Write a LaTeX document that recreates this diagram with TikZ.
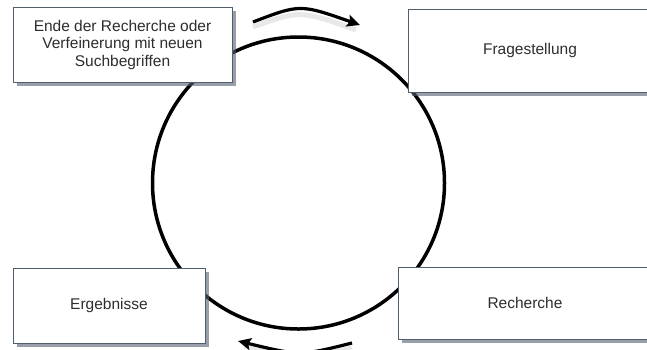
\documentclass[tikz,border=0pt]{standalone}
\usepackage{fontspec}
\setmainfont{Liberation Sans}
\usetikzlibrary{shadows,arrows.meta}
\definecolor{boxline}{RGB}{80,94,110}
\definecolor{txt}{RGB}{45,45,45}
\definecolor{shad}{RGB}{85,95,110}
\begin{document}
\begin{tikzpicture}[x=1pt,y=-1pt,
  box/.style={draw=boxline, line width=1pt, fill=white,
    drop shadow={shadow xshift=3.5pt, shadow yshift=-3.5pt, fill=shad, opacity=0.6},
    text=txt, font=\fontsize{15.5}{17.5}\selectfont, align=center, inner sep=0pt},
  cyc/.style={line width=3.5pt, black},
  turn/.style={line width=3.2pt, black, -{Stealth[length=13pt,width=12pt,inset=2.5pt]}}]
\useasboundingbox (0,0) rectangle (647,349);
\fill[white] (0,0) rectangle (647,349);
% circle
\node[circle, draw, cyc, minimum size=292pt, inner sep=0pt] (ring) at (298.5,183) {};
% boxes
\node[box, minimum width=219pt, minimum height=75pt] (ende) at (122.5,44.5)
  {Ende der Recherche oder\\Verfeinerung mit neuen\\Suchbegriffen};
\node[box, minimum width=244pt, minimum height=83pt] (frage) at (530,50.5) {Fragestellung};
\node[box, minimum width=254pt, minimum height=72pt] (rech) at (525,303) {Recherche};
\node[box, minimum width=192pt, minimum height=75pt] (erg) at (109,305.5) {Ergebnisse};
% turning arrows
\coordinate (t1) at (253,22);
\coordinate (t2) at (360,25);
\coordinate (b1) at (352,343);
\coordinate (b2) at (238,341);
\draw[line width=5pt, gray!30, opacity=0.6] (253,27) .. controls (300,10) .. (356,30);
\draw[turn] (t1) .. controls (300,4) .. (t2);
\draw[line width=5pt, gray!30, opacity=0.6] (352,348) .. controls (300,360) .. (244,346);
\draw[turn] (b1) .. controls (300,356) .. (b2);
\end{tikzpicture}
\end{document}
